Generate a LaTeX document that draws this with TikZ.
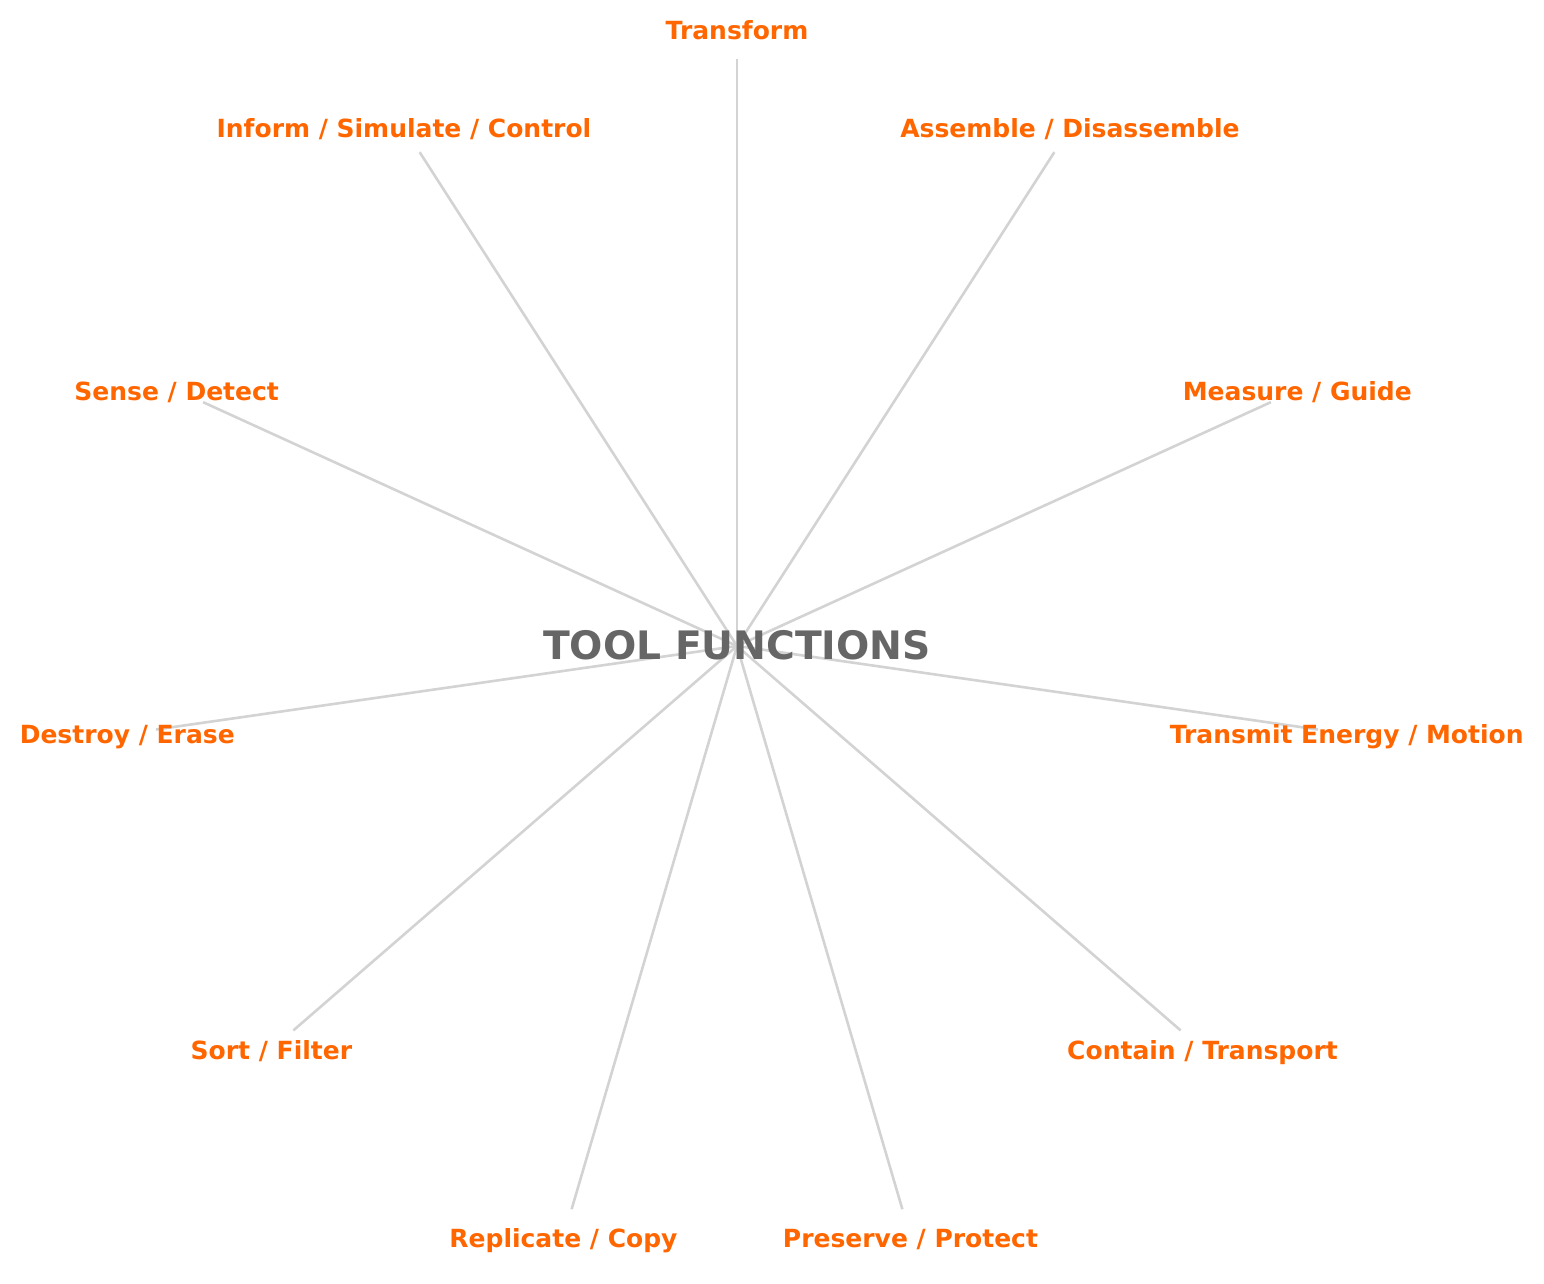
\documentclass[tikz,border=0pt]{standalone}
\usepackage{fontspec}
\setmainfont{DejaVu Sans}
\definecolor{labelorange}{HTML}{FF6600}
\definecolor{spokegray}{HTML}{D3D3D3}
\definecolor{titlegray}{HTML}{666666}
\begin{document}
\begin{tikzpicture}[x=0.5pt,y=0.5pt,
  spoke/.style={draw=spokegray,line width=1.3pt},
  fnlabel/.style={text=labelorange,font=\bfseries\fontsize{12.5}{14}\selectfont,anchor=base,inner sep=0pt,yshift=-5pt},
  titlelabel/.style={text=titlegray,font=\bfseries\fontsize{19.6}{22}\selectfont,anchor=base,inner sep=0pt}]
\useasboundingbox (-737,-638) rectangle (807,646);
\coordinate (c) at (0,0);
\foreach \i in {0,...,10}{
  \coordinate (e\i) at ({90+\i*360/11}:587);
  \draw[spoke] (c) -- (e\i);
}
\node[fnlabel] (l0) at ({90+0*360/11}:616) {Transform};
\node[fnlabel] (l1) at ({90+1*360/11}:616) {Inform / Simulate / Control};
\node[fnlabel] (l2) at ({90+2*360/11}:616) {Sense / Detect};
\node[fnlabel] (l3) at ({90+3*360/11}:616) {Destroy / Erase};
\node[fnlabel] (l4) at ({90+4*360/11}:616) {Sort / Filter};
\node[fnlabel] (l5) at ({90+5*360/11}:616) {Replicate / Copy};
\node[fnlabel] (l6) at ({90+6*360/11}:616) {Preserve / Protect};
\node[fnlabel] (l7) at ({90+7*360/11}:616) {Contain / Transport};
\node[fnlabel] (l8) at ({90+8*360/11}:616) {Transmit Energy / Motion};
\node[fnlabel] (l9) at ({90+9*360/11}:616) {Measure / Guide};
\node[fnlabel] (l10) at ({90+10*360/11}:616) {Assemble / Disassemble};
\node[titlelabel] (title) at (0,-14) {TOOL FUNCTIONS};
\end{tikzpicture}
\end{document}
